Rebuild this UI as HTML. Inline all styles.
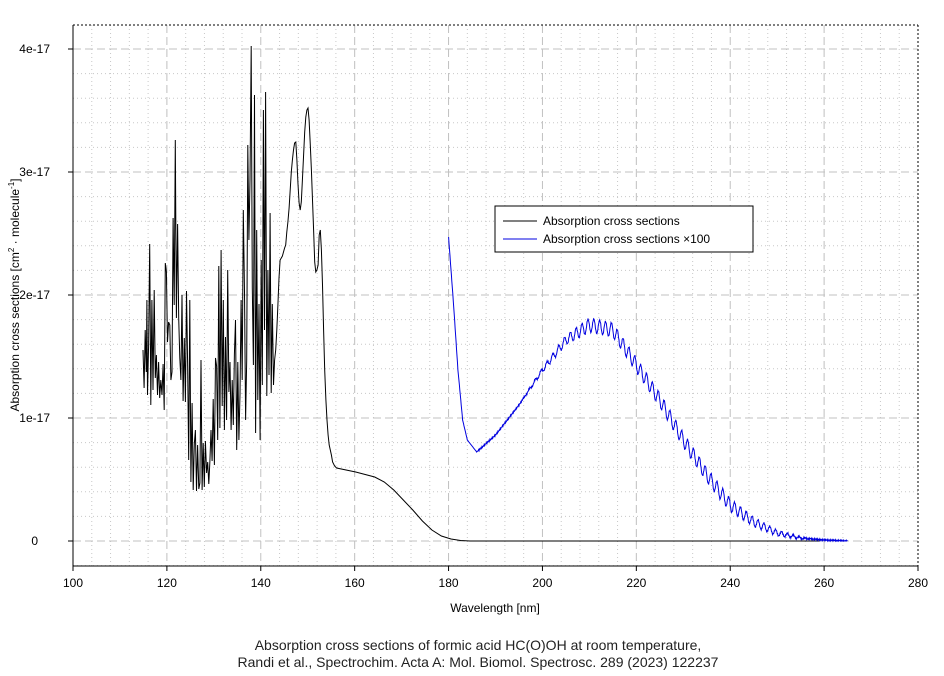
<!DOCTYPE html>
<html><head><meta charset="utf-8"><style>
body{margin:0;background:#fff;width:944px;height:676px;overflow:hidden}
svg{display:block;font-family:"Liberation Sans",Arial,sans-serif}
</style></head><body>
<svg id="s" width="944" height="676" viewBox="0 0 944 676" xmlns="http://www.w3.org/2000/svg">
<g id="grid"></g>
<line x1="73" y1="25" x2="918" y2="25" stroke="#000" stroke-dasharray="2,2"/>
<line x1="918" y1="25" x2="918" y2="566" stroke="#000" stroke-dasharray="2,2"/>
<line x1="73" y1="25" x2="73" y2="566" stroke="#000"/>
<line x1="73" y1="566" x2="918" y2="566" stroke="#000"/>
<g id="ticks" font-size="12" fill="#000"></g>
<polyline id="blk" fill="none" stroke="#000" stroke-width="1"/>
<polyline id="blu" fill="none" stroke="#0000e0" stroke-width="1"/>
<rect x="495" y="206" width="258" height="46" fill="#fff" stroke="#000"/>
<line x1="503" y1="221" x2="537" y2="221" stroke="#000"/>
<line x1="503" y1="239" x2="537" y2="239" stroke="#0000e0"/>
<text x="543" y="225" font-size="12">Absorption cross sections</text>
<text x="543" y="243" font-size="12">Absorption cross sections ×100</text>
<text x="495" y="612" font-size="12" text-anchor="middle">Wavelength [nm]</text>
<text transform="translate(19,295) rotate(-90)" font-size="12" text-anchor="middle">Absorption cross sections [cm<tspan font-size="8" dy="-5">2</tspan><tspan dy="5"> · molecule</tspan><tspan font-size="8" dy="-5">-1</tspan><tspan dy="5">]</tspan></text>
<text x="478" y="650" font-size="14" text-anchor="middle" fill="#222">Absorption cross sections of formic acid HC(O)OH at room temperature,</text>
<text x="478" y="667" font-size="14" text-anchor="middle" fill="#222">Randi et al., Spectrochim. Acta A: Mol. Biomol. Spectrosc. 289 (2023) 122237</text>
</svg>
<script>
var NS="http://www.w3.org/2000/svg";
function el(p,t,a){var e=document.createElementNS(NS,t);for(var k in a)e.setAttribute(k,a[k]);p.appendChild(e);return e;}
var g=document.getElementById('grid'),tk=document.getElementById('ticks');
function X(w){return 73+(w-100)*845/180;}
function Y(v){return 541-v*123;}
for(var w=104;w<280;w+=4){if((w-100)%20)el(g,'line',{x1:X(w),x2:X(w),y1:25,y2:566,stroke:'#c8c8c8','stroke-dasharray':'1,3'});}
for(var v=-0.2;v<4.2;v+=0.2){var r=Math.round(v*10);if(r%10)el(g,'line',{x1:73,x2:918,y1:Y(v),y2:Y(v),stroke:'#c8c8c8','stroke-dasharray':'1,3'});}
for(var w=120;w<280;w+=20)el(g,'line',{x1:X(w),x2:X(w),y1:25,y2:566,stroke:'#c0c0c0','stroke-dasharray':'8,4'});
for(var v=0;v<=4;v++)el(g,'line',{x1:73,x2:918,y1:Y(v),y2:Y(v),stroke:'#c0c0c0','stroke-dasharray':'8,4'});
for(var w=100;w<=280;w+=20){el(tk,'line',{x1:X(w),x2:X(w),y1:566,y2:571,stroke:'#000'});var t=el(tk,'text',{x:X(w),y:587,'text-anchor':'middle'});t.textContent=w;}
var lab=['0','1e-17','2e-17','3e-17','4e-17'];
for(var v=0;v<=4;v++){el(tk,'line',{x1:68,x2:73,y1:Y(v),y2:Y(v),stroke:'#000'});var t=el(tk,'text',{x:v?50:38,y:Y(v)+4,'text-anchor':'end'});t.textContent=lab[v];}
var b=[143,350,144,388,145,330,146,372,146.5,300,147,395,148,345,149,244,150,405,151,300,152,390,153,290,154,378,155,355,156,395,157,362,158,398,159,380,160,395,161,364,162,410,163,263,164,272,165,342,166,322,167,325,168,380,169,372,170,218,171,305,172,140,173,318,174,224,175,318,176,358,177,380,178,295,179,401,180,338,181,402,182,291,183,363,184,460,185,300,186,482,187,403,188,490,189,444,190,430,191,491,192,445,193,489,194,483,195,360,196,490,197,443,198,487,199,441,200,473,201,462,202,484,203,461,204,430,205,461,206,399,207,465,208,358,209,366,210,440,211,266,212,428,213,250,214,406,215,300,216,430,217,337,218,420,219,270,220,392,221,362,222,430,223,380,224,425,225,354,226,320,227,450,228,362,229,440,230,394,231,300,232,380,233,210,234,292,235,420,236,360,237,145,238,240,239,180,240,46,241,288,242,365,243,95,244,433,245,230,246,400,247,304,248,440,249,260,250,385,251,110,252,330,253,92,254,396,255,270,256,375,257,213,258,393,259,304,260,385,261,360,262,350,263,330,264,305,265,278,266,260,267,258,268,256,269,252,270,248,271,245,272,232,273,222,274,208,275,190,276,172,277,160,278,150,279,143,280,142,281,160,282,184,283,203,284,210,285,202,286,180,287,155,288,132,289,117,290,110,291,108,292,120,293,145,294,170,295,200,296,230,297,262,298,272,299,270,300,265,301,235,302,230,303,250,304,285,305,330,306,370,307,400,308,420,309,435,310,445,311,450,312,455,320,462,330,466,340,468,360,472,380,477,390,482,400,490,410,500,420,510,430,521,440,530,450,536,460,539,470,540.5,480,541,847,541];
var p=[];for(var i=0;i<b.length;i+=2){var x=b[i];if(x<=312)x=143+(x-143)*1.115;else x=331+(x-312)*(x<340?0.2:0)+(x>=340?(x-340)*0.953+ (340-312)*0.2:0);p.push(x.toFixed(1)+','+b[i+1]);}
document.getElementById('blk').setAttribute('points',p.join(' '));
var K=[[180,237],[181,300],[182,370],[183,420],[184,440],[186,452],[190,435],[195,405],[200,370],[205,340],[210,325],[215,330],[220,365],[225,400],[230,440],[235,475],[240,505],[245,522],[250,533],[255,538],[260,540],[265,541]];
function base(w){for(var i=0;i<K.length-1;i++){if(w<=K[i+1][0]){var f=(w-K[i][0])/(K[i+1][0]-K[i][0]);return K[i][1]+f*(K[i+1][1]-K[i][1]);}}return 541;}
var q=[];
for(var w=180;w<=265;w+=0.1){var y=base(w);var a=0;
if(w>195)a=Math.min(1,(w-195)/15)*7*Math.max(0,Math.min(1,(258-w)/20));
y+=a*Math.sin(w*2*Math.PI/1.25)+(w>186?0.8*Math.sin(w*37):0);
q.push(X(w).toFixed(1)+','+Math.min(541,y).toFixed(1));}
document.getElementById('blu').setAttribute('points',q.join(' '));
</script>
</body></html>
